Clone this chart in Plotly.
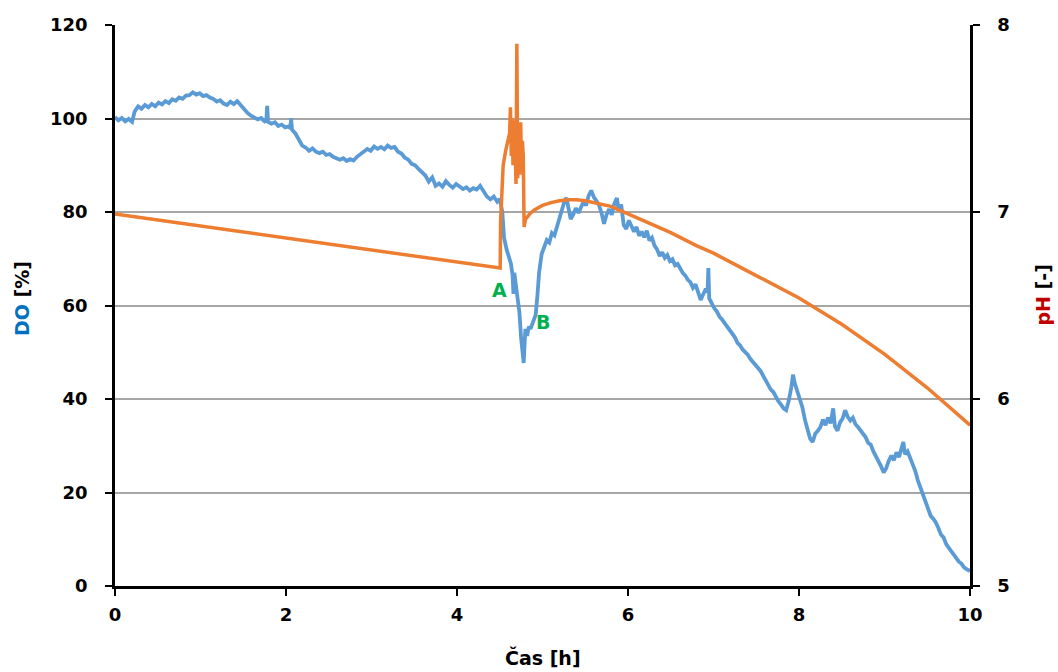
import plotly.graph_objects as go

# DO [%]
t_do = [0.00, 0.04, 0.08, 0.12, 0.16, 0.20, 0.23, 0.27, 0.31, 0.35, 0.39, 0.43, 0.47, 0.51, 0.55, 0.59,
        0.63, 0.67, 0.71, 0.75, 0.79, 0.83, 0.87, 0.91, 0.95, 0.99, 1.03, 1.07, 1.11, 1.15, 1.19, 1.23,
        1.27, 1.31, 1.35, 1.39, 1.43, 1.47, 1.51, 1.55, 1.59, 1.63, 1.67, 1.71, 1.75, 1.77, 1.78, 1.79,
        1.83, 1.87, 1.91, 1.95, 1.99, 2.03, 2.05, 2.06, 2.07, 2.11, 2.15, 2.19, 2.23, 2.27, 2.31, 2.35,
        2.39, 2.43, 2.47, 2.51, 2.55, 2.59, 2.63, 2.67, 2.71, 2.75, 2.79, 2.83, 2.87, 2.91, 2.95, 2.99,
        3.03, 3.07, 3.11, 3.15, 3.19, 3.23, 3.27, 3.31, 3.35, 3.39, 3.43, 3.47, 3.51, 3.55, 3.59, 3.63,
        3.67, 3.71, 3.75, 3.79, 3.83, 3.87, 3.91, 3.95, 3.99, 4.03, 4.07, 4.11, 4.15, 4.19, 4.23, 4.27,
        4.31, 4.35, 4.39, 4.43, 4.47, 4.50, 4.53, 4.55, 4.58, 4.61, 4.63, 4.65, 4.66, 4.67, 4.69, 4.71,
        4.73, 4.75, 4.77, 4.78, 4.79, 4.80, 4.82, 4.84, 4.86, 4.89, 4.92, 4.94, 4.96, 4.99, 5.02, 5.05,
        5.08, 5.11, 5.14, 5.17, 5.20, 5.23, 5.26, 5.28, 5.30, 5.33, 5.36, 5.39, 5.42, 5.45, 5.48, 5.51,
        5.54, 5.57, 5.60, 5.63, 5.66, 5.69, 5.72, 5.75, 5.78, 5.81, 5.84, 5.87, 5.89, 5.92, 5.95, 5.98,
        6.01, 6.04, 6.07, 6.10, 6.13, 6.16, 6.19, 6.22, 6.25, 6.28, 6.31, 6.34, 6.37, 6.40, 6.43, 6.46,
        6.49, 6.52, 6.55, 6.58, 6.61, 6.64, 6.67, 6.70, 6.73, 6.76, 6.79, 6.82, 6.85, 6.88, 6.91, 6.93,
        6.94, 6.95, 6.98, 7.01, 7.04, 7.07, 7.10, 7.13, 7.16, 7.19, 7.22, 7.25, 7.28, 7.31, 7.34, 7.37,
        7.40, 7.43, 7.46, 7.49, 7.52, 7.55, 7.58, 7.61, 7.64, 7.67, 7.70, 7.73, 7.76, 7.79, 7.82, 7.85,
        7.88, 7.91, 7.93, 7.95, 7.98, 8.01, 8.04, 8.07, 8.10, 8.13, 8.16, 8.19, 8.22, 8.25, 8.28, 8.31,
        8.34, 8.37, 8.40, 8.42, 8.45, 8.48, 8.51, 8.54, 8.57, 8.60, 8.63, 8.66, 8.69, 8.72, 8.75, 8.78,
        8.81, 8.84, 8.87, 8.90, 8.93, 8.96, 8.99, 9.02, 9.05, 9.08, 9.11, 9.14, 9.17, 9.20, 9.22, 9.24,
        9.27, 9.30, 9.33, 9.36, 9.39, 9.42, 9.45, 9.48, 9.51, 9.54, 9.57, 9.60, 9.63, 9.66, 9.69, 9.72,
        9.75, 9.78, 9.81, 9.84, 9.87, 9.90, 9.93, 9.96, 10.00]
do = [100.3, 99.6, 100.1, 99.4, 99.9, 99.3, 101.5, 102.6, 102.1, 102.9, 102.4, 103.1, 102.6, 103.4, 103.0, 103.7,
      103.3, 104.1, 103.8, 104.5, 104.2, 104.9, 105.0, 105.6, 105.1, 105.4, 104.8, 105.0, 104.5, 104.2, 103.6, 103.9,
      103.2, 102.9, 103.6, 103.1, 103.7, 102.8, 101.9, 101.2, 100.6, 100.2, 99.8, 100.1, 99.4, 99.6, 102.7, 99.3,
      98.9, 99.2, 98.4, 98.7, 98.1, 98.3, 97.9, 100.0, 97.6, 96.8, 95.6, 94.2, 93.8, 93.1, 93.6, 92.9,
      92.6, 92.9, 92.2, 92.4, 91.8, 91.6, 91.2, 91.5, 90.9, 91.3, 91.0, 91.8, 92.3, 92.9, 93.5, 93.1,
      94.0, 93.5, 93.9, 93.4, 94.2, 93.7, 93.9, 92.9, 92.5, 91.6, 91.2, 90.3, 90.0, 89.2, 88.4, 87.8,
      86.5, 87.4, 85.6, 86.1, 85.4, 86.6, 85.8, 85.2, 86.0, 85.5, 84.9, 85.3, 84.6, 85.1, 84.8, 85.6,
      84.6, 83.3, 82.7, 83.3, 82.2, 82.8, 80.0, 74.5, 72.0, 70.5, 69.0, 66.5, 62.5, 67.0, 64.5, 62.0,
      58.5, 53.0, 49.0, 47.7, 51.5, 55.0, 53.5, 55.5, 55.0, 56.5, 58.0, 62.0, 67.0, 71.0, 72.5, 74.0,
      73.5, 75.5, 75.0, 77.0, 78.5, 80.5, 82.5, 83.0, 81.0, 78.5, 79.5, 80.8, 79.8, 81.0, 82.2, 81.4,
      83.5, 84.6, 83.2, 82.4, 81.5, 79.8, 77.5, 79.5, 80.6, 79.4, 81.8, 83.0, 80.4, 81.6, 77.2, 76.4,
      78.2, 77.0, 75.8, 76.8, 74.9, 75.8, 74.6, 76.0, 73.9, 74.5, 72.8, 72.0, 70.6, 71.4, 70.2, 70.8,
      69.5, 69.9, 68.6, 68.9, 67.8, 67.0, 66.4, 65.5, 65.0, 63.8, 64.5, 62.6, 61.2, 62.4, 63.6, 62.8,
      68.0, 61.5, 60.2, 59.4, 58.7, 57.6, 57.0, 56.2, 55.4, 54.6, 53.9, 53.2, 52.0, 51.5, 50.6, 50.0,
      49.5, 48.6, 48.0, 47.2, 46.6, 46.0, 45.0, 44.0, 43.3, 42.0, 41.5, 40.3, 39.5, 38.8, 38.0, 37.6,
      39.6, 42.5, 45.2, 43.4, 41.6, 40.4, 38.2, 35.5, 33.4, 31.5, 30.8, 32.6, 33.2, 34.0, 35.6, 34.4,
      36.0, 34.8, 38.0, 34.2, 33.2, 35.0, 35.8, 37.6, 36.2, 35.4, 36.0, 34.6, 34.0, 33.2, 32.6, 31.8,
      30.6, 30.2, 28.8, 27.8, 26.6, 25.6, 24.3, 25.2, 26.8, 27.9, 26.9, 28.6, 27.6, 29.2, 30.8, 28.2,
      28.8, 27.4, 26.2, 24.6, 22.6, 21.0, 19.4, 18.0, 16.8, 15.0, 14.4, 13.6, 12.4, 11.0, 10.4, 9.0,
      8.2, 7.4, 6.6, 5.8, 5.2, 4.8, 4.0, 3.6, 3.2]

# pH [-]
t_ph = [0.0, 4.505, 4.51, 4.52, 4.54, 4.57, 4.60, 4.615, 4.625, 4.635, 4.645, 4.655, 4.665, 4.68,
        4.69, 4.70, 4.71, 4.72, 4.735, 4.745, 4.755, 4.765, 4.775, 4.785, 4.80, 4.85, 4.90, 5.0,
        5.1, 5.2, 5.3, 5.4, 5.5, 5.6, 5.7, 5.8, 6.0, 6.2, 6.5, 6.8, 7.0, 7.5, 8.0, 8.5, 9.0, 9.5, 10.0]
ph = [6.99, 6.70, 6.95, 7.10, 7.25, 7.33, 7.38, 7.42, 7.56, 7.30, 7.50, 7.25, 7.49, 7.35,
      7.15, 7.90, 7.18, 7.46, 7.20, 7.48, 7.22, 7.38, 7.30, 6.92, 6.96, 6.99, 7.01, 7.035,
      7.05, 7.06, 7.065, 7.065, 7.06, 7.05, 7.04, 7.03, 6.99, 6.95, 6.89, 6.82, 6.78, 6.66, 6.54, 6.40, 6.24, 6.06, 5.86]

FONT = 'DejaVu Sans'
tick_font = dict(family=FONT, size=18, color='#000000', weight='bold')

fig = go.Figure()
fig.add_trace(go.Scatter(x=t_do, y=do, mode='lines', line=dict(color='#5B9BD5', width=3.8), name='DO'))
fig.add_trace(go.Scatter(x=t_ph, y=ph, mode='lines', line=dict(color='#ED7D31', width=3.5), name='pH',
                         yaxis='y2'))

axis_common = dict(zeroline=False, showline=True, linecolor='black', linewidth=2.5, ticks='outside',
                   ticklen=7, tickwidth=2, tickcolor='black', tickfont=tick_font, automargin=False)

fig.update_layout(
    width=1058, height=672, autosize=False,
    margin=dict(l=115, r=88, t=25, b=86),
    plot_bgcolor='white', paper_bgcolor='white',
    showlegend=False,
    xaxis=dict(range=[0, 10], tickvals=[0, 2, 4, 6, 8, 10], showgrid=False, ticklabelstandoff=4,
               **axis_common),
    yaxis=dict(range=[0, 120], tickvals=[0, 20, 40, 60, 80, 100, 120], showgrid=True,
               gridcolor='#A6A6A6', gridwidth=1.5, ticklabelstandoff=14, **axis_common),
    yaxis2=dict(range=[5, 8], tickvals=[5, 6, 7, 8], overlaying='y', side='right', showgrid=False,
                ticklabelstandoff=14, **axis_common),
)

title_font = dict(family=FONT, size=19, color='#000000', weight='bold')
centered = dict(showarrow=False, xanchor='center', yanchor='middle')
fig.add_annotation(text="<span style='color:#0070C0'>DO</span> [%]", xref='paper', yref='paper',
                   x=-0.109, y=0.513, textangle=-90, font=title_font, **centered)
fig.add_annotation(text="<span style='color:#C00000'>pH</span> [-]", xref='paper', yref='paper',
                   x=1.085, y=0.519, textangle=-90, font=title_font, **centered)
fig.add_annotation(text='Čas [h]', xref='paper', yref='paper', x=0.5006, y=-0.128,
                   font=title_font, **centered)

label_font = dict(family=FONT, size=19, color='#00B050', weight='bold')
fig.add_annotation(text='A', x=4.50, y=63.3, xref='x', yref='y', font=label_font, **centered)
fig.add_annotation(text='B', x=5.00, y=56.5, xref='x', yref='y', font=label_font, **centered)

fig.write_html("out.html", config={'displayModeBar': False},
               post_script="document.body.style.margin='0';")
